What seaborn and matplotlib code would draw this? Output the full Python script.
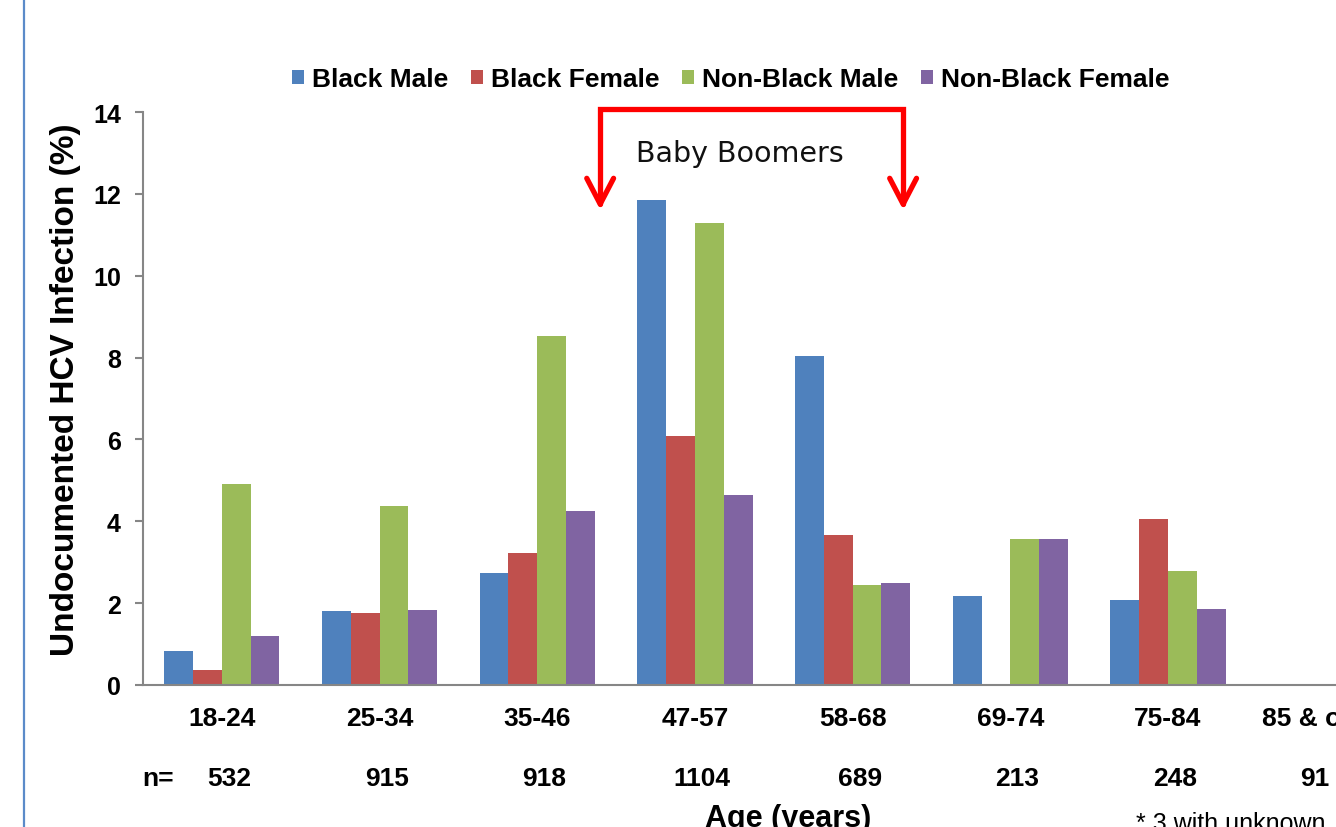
import numpy as np
import pandas as pd
import matplotlib
matplotlib.use("Agg")
import matplotlib.pyplot as plt
from matplotlib.lines import Line2D
import seaborn as sns

# Undocumented HCV infection by age group, race and sex
age_groups = ["18-24", "25-34", "35-46", "47-57", "58-68", "69-74", "75-84", "85 & older"]
sample_sizes = [532, 915, 918, 1104, 689, 213, 248, 91]
black_male = [0.82, 1.81, 2.73, 11.85, 8.03, 2.17, 2.08, 0.0]
black_female = [0.37, 1.76, 3.22, 6.09, 3.67, 0.0, 4.06, 0.0]
nonblack_male = [4.91, 4.37, 8.52, 11.29, 2.45, 3.57, 2.79, 0.0]
nonblack_female = [1.20, 1.83, 4.26, 4.64, 2.48, 3.57, 1.86, 0.0]
groups = ["Black Male", "Black Female", "Non-Black Male", "Non-Black Female"]
colors = ["#4F81BD", "#C0504D", "#9BBB59", "#8064A2"]

wide = pd.DataFrame({"age": age_groups,
                     groups[0]: black_male,
                     groups[1]: black_female,
                     groups[2]: nonblack_male,
                     groups[3]: nonblack_female})
df = wide.melt(id_vars="age", var_name="group", value_name="pct")

sns.set_theme(style="white")
plt.rcParams["font.family"] = ["Liberation Sans", "DejaVu Sans"]
plt.rcParams.update({"text.color": "black", "axes.labelcolor": "black",
                     "xtick.color": "black", "ytick.color": "black",
                     "legend.labelcolor": "black"})

W, H = 1336, 828
fig = plt.figure(figsize=(W / 100, H / 100), dpi=100)
fig.patch.set_facecolor("white")

# axes runs past the right edge of the canvas
ax = fig.add_axes([143 / W, 142 / H, 1261.6 / W, 573 / H])

sns.barplot(data=df, x="age", y="pct", hue="group", order=age_groups,
            hue_order=groups, palette=colors, width=0.73, gap=0,
            linewidth=0, saturation=1, errorbar=None, ax=ax, legend=True)

ax.set_xlim(-0.5, len(age_groups) - 0.5)
ax.set_ylim(0, 14)
ax.set_yticks(np.arange(0, 15, 2))
ax.set_xlabel("")
ax.set_ylabel("")

gray = "#868686"
for side in ["top", "right"]:
    ax.spines[side].set_visible(False)
for side in ["left", "bottom"]:
    ax.spines[side].set_color(gray)
    ax.spines[side].set_linewidth(1.5)

ax.set_xticks(np.arange(-0.5, len(age_groups), 1.0), minor=True)
ax.tick_params(axis="x", which="minor", length=7, width=1.5, color=gray, direction="out")
ax.tick_params(axis="x", which="major", length=0, pad=15, labelcolor="black")
ax.tick_params(axis="y", which="major", length=6, width=1.5, color=gray,
               direction="out", pad=10, left=True, labelcolor="black")
for lab in ax.get_xticklabels():
    lab.set_fontsize(19)
    lab.set_fontweight("bold")
for lab in ax.get_yticklabels():
    lab.set_fontsize(18)
    lab.set_fontweight("bold")

# sample sizes under each age group
row_y = (H - 779) / H
row_tr = matplotlib.transforms.blended_transform_factory(ax.transData, fig.transFigure)
for i, n in enumerate(sample_sizes[:-1]):
    ax.text(i + 0.045, row_y, f"{n}", transform=row_tr, ha="center", va="center",
            fontsize=19, fontweight="bold", color="black", clip_on=False)
fig.text(1329 / W, row_y, f"{sample_sizes[-1]}", ha="right", va="center",
         fontsize=19, fontweight="bold", color="black")
fig.text(158 / W, row_y, "n=", ha="center", va="center",
         fontsize=19, fontweight="bold", color="black")

fig.text(66 / W, (H - 390) / H, "Undocumented HCV Infection (%)", rotation=90,
         ha="center", va="center", fontsize=24, fontweight="bold", color="black")
fig.text(788 / W, (H - 827) / H, "Age (years)", ha="center", va="baseline",
         fontsize=22, fontweight="bold", color="black")
fig.text(1136 / W, (H - 831) / H, "* 3 with unknown", ha="left", va="baseline",
         fontsize=18, color="black")

# legend across the top
handles, labels = ax.get_legend_handles_labels()
ax.get_legend().remove()
fig.legend(handles, labels, loc="center", bbox_to_anchor=(731 / W, (H - 80) / H),
           ncol=4, frameon=False, prop={"size": 19, "weight": "bold"},
           handlelength=0.45, handleheight=0.45, handletextpad=0.3,
           columnspacing=0.87, borderaxespad=0, labelcolor="black")

# Baby Boomers bracket with arrows
red = "#FF0000"
xl, xr = 2.399, 4.320
ytop, ytip, yarm = 14.07, 11.75, 12.38
dx = 0.085
ax.plot([xl, xl, xr, xr], [ytip, ytop, ytop, ytip], color=red, lw=3.8,
        solid_joinstyle="miter", clip_on=False)
for xc in (xl, xr):
    ax.plot([xc - dx, xc, xc + dx], [yarm, ytip, yarm], color=red, lw=3.8,
            solid_capstyle="round", solid_joinstyle="round", clip_on=False)
ax.text(3.287, 13.01, "Baby Boomers", ha="center", va="center",
        fontsize=20.5, family="DejaVu Sans", color="#111111", clip_on=False)

# slide border on the left
fig.add_artist(Line2D([24 / W, 24 / W], [0, 1], transform=fig.transFigure,
                      color="#5B8BC9", lw=1.6))

fig.savefig("out.png", dpi=100)
